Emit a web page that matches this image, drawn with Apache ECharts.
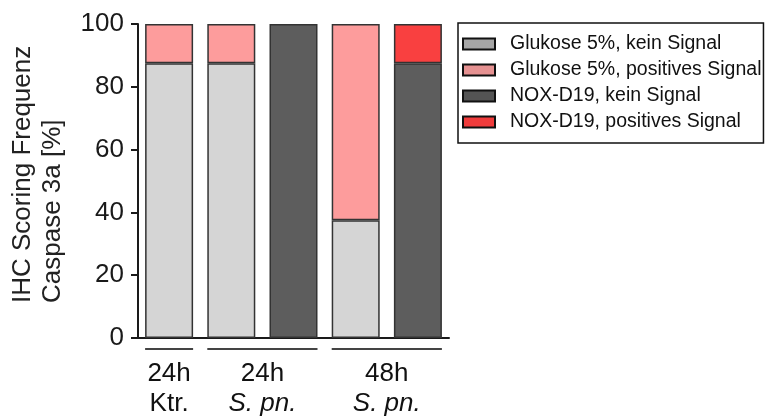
<!DOCTYPE html>
<html>
<head>
<meta charset="utf-8">
<script src="https://cdn.jsdelivr.net/npm/echarts@6/dist/echarts.min.js"></script>
<style>
  html, body { margin: 0; padding: 0; background: #fff; }
  #chart { width: 766px; height: 417px; }
</style>
</head>
<body>
<div id="chart"></div>
<script>
// Bars, left to right
const categories = ['Ktr. 24h Glukose', 'S.pn. 24h Glukose', 'S.pn. 24h NOX-D19', 'S.pn. 48h Glukose', 'S.pn. 48h NOX-D19'];

// Scoring frequency in percent per bar
const glukoseKein = [87.5, 87.5, null, 37.5, null];
const glukosePositiv = [12.5, 12.5, null, 62.5, null];
const noxKein = [null, null, 100, null, 87.5];
const noxPositiv = [null, null, null, null, 12.5];

const seriesNames = ['Glukose 5%, kein Signal', 'Glukose 5%, positives Signal', 'NOX-D19, kein Signal', 'NOX-D19, positives Signal'];

// Group labels under the axis
const groupTop = ['24h', '24h', '48h'];
const groupBottom = ['Ktr.', 'S. pn.', 'S. pn.'];
const groupItalic = [false, true, true];
const groupFirst = [0, 1, 3];
const groupLast = [0, 2, 4];

const yTicks = [0, 20, 40, 60, 80, 100];

const FONT = '"Liberation Sans", Arial, sans-serif';
const barColors = ['#d5d5d5', '#fd9c9c', '#5d5d5d', '#f94040'];
const legendColors = ['#a6a6a6', '#e69292', '#545454', '#f03c3c'];
const BAR_W = 48;

const chart = echarts.init(document.getElementById('chart'), null, { renderer: 'canvas' });

function barSeries(name, data, color) {
  return {
    name: name,
    type: 'bar',
    stack: 'total',
    data: data,
    barWidth: BAR_W,
    itemStyle: { color: color, borderColor: '#333', borderWidth: 1.5 },
    emphasis: { disabled: true }
  };
}

const option = {
  animation: false,
  textStyle: { fontFamily: FONT },
  grid: { left: 138, right: 317, top: 24, bottom: 79, containLabel: false },
  legend: {
    orient: 'vertical',
    left: 458,
    top: 23,
    padding: [11, 2, 11, 4],
    itemWidth: 32,
    itemHeight: 11,
    itemGap: 6,
    borderColor: '#111',
    borderWidth: 1.5,
    selectedMode: false,
    icon: 'rect',
    textStyle: { fontFamily: FONT, fontSize: 19.5, color: '#111', padding: [0, 0, 0, 10], lineHeight: 20 },
    data: seriesNames.map((n, i) => ({
      name: n,
      itemStyle: { color: legendColors[i], borderColor: '#111', borderWidth: 2 }
    }))
  },
  xAxis: {
    type: 'category',
    data: categories,
    axisLine: { show: true, lineStyle: { color: '#1a1a1a', width: 2 } },
    axisTick: { show: false },
    axisLabel: { show: false }
  },
  yAxis: {
    type: 'value',
    min: yTicks[0],
    max: yTicks[yTicks.length - 1],
    interval: 20,
    axisLine: { show: true, lineStyle: { color: '#1a1a1a', width: 2 } },
    axisTick: { show: true, length: 7, lineStyle: { color: '#1a1a1a', width: 2 } },
    splitLine: { show: false },
    axisLabel: { fontFamily: FONT, fontSize: 26, color: '#1a1a1a', margin: 14 }
  },
  series: [
    barSeries(seriesNames[0], glukoseKein, barColors[0]),
    barSeries(seriesNames[1], glukosePositiv, barColors[1]),
    barSeries(seriesNames[2], noxKein, barColors[2]),
    barSeries(seriesNames[3], noxPositiv, barColors[3])
  ]
};

chart.setOption(option);

// Group brackets and labels placed from the category scale
const graphics = [];
const y0 = chart.convertToPixel({ yAxisIndex: 0 }, 0);
for (let g = 0; g < groupTop.length; g++) {
  const xa = chart.convertToPixel({ xAxisIndex: 0 }, categories[groupFirst[g]]) - BAR_W / 2;
  const xb = chart.convertToPixel({ xAxisIndex: 0 }, categories[groupLast[g]]) + BAR_W / 2;
  const cx = (xa + xb) / 2;
  graphics.push({
    type: 'line',
    shape: { x1: xa, y1: y0 + 11, x2: xb, y2: y0 + 11 },
    style: { stroke: '#444', lineWidth: 2 }
  });
  graphics.push({
    type: 'text',
    x: cx, y: y0 + 36,
    style: { text: groupTop[g], font: '26px ' + FONT, fill: '#111', align: 'center', verticalAlign: 'middle' }
  });
  graphics.push({
    type: 'text',
    x: cx, y: y0 + 66,
    style: { text: groupBottom[g], font: (groupItalic[g] ? 'italic ' : '') + '26px ' + FONT, fill: '#111', align: 'center', verticalAlign: 'middle' }
  });
}

// Y axis title, two rotated lines
graphics.push({
  type: 'text', x: 23, y: 303, rotation: Math.PI / 2,
  style: { text: 'IHC Scoring Frequenz', font: '26px ' + FONT, fill: '#222', align: 'left', verticalAlign: 'middle' }
});
graphics.push({
  type: 'text', x: 53, y: 303, rotation: Math.PI / 2,
  style: { text: 'Caspase 3a [%]', font: '26px ' + FONT, fill: '#222', align: 'left', verticalAlign: 'middle' }
});

chart.setOption({ graphic: graphics });
</script>
</body>
</html>
